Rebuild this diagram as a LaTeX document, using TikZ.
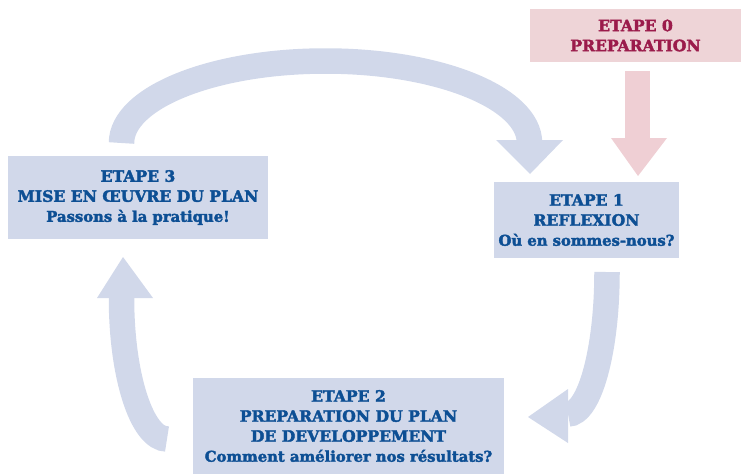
\documentclass[tikz,border=0pt]{standalone}
\usepackage{fontspec}
\newfontfamily\stepfont{DejaVu Serif Bold}[FakeBold=2.4]
\newcommand\capln[1]{{\fontsize{15.6}{20}\selectfont #1}}
\newcommand\lowln[1]{{\fontsize{14.8}{20}\selectfont #1}}
\definecolor{boxblue}{HTML}{D1D8EA}
\definecolor{boxpink}{HTML}{EED4D7}
\definecolor{arrowpink}{HTML}{EFCFD4}
\definecolor{txtblue}{HTML}{0D4F94}
\definecolor{txtred}{HTML}{9B1B4B}
\begin{document}
\begin{tikzpicture}[x=1pt,y=-1pt,
  stepbox/.style={fill=boxblue, draw=none, inner sep=0pt, align=center, text=txtblue,
    font=\stepfont\fontsize{15}{20}\selectfont},
  pinkbox/.style={stepbox, fill=boxpink, text=txtred},
  band/.style={draw=boxblue, line width=25.5pt},
  bandhead/.style={fill=boxblue},
  pinkhead/.style={fill=arrowpink}]
\useasboundingbox (0,0) rectangle (741,474);

% boxes
\node[pinkbox, minimum width=211pt, minimum height=53pt] (e0) at (635.5,35.5) {\capln{ETAPE 0}\\\capln{PREPARATION}};
\node[stepbox, minimum width=185pt, minimum height=76pt] (e1) at (586.5,220) {\capln{ETAPE 1}\\\capln{REFLEXION}\\\lowln{Où en sommes-nous?}};
\node[stepbox, minimum width=260pt, minimum height=83pt] (e3) at (138,197.5) {\capln{ETAPE 3}\\\capln{MISE EN ŒUVRE DU PLAN}\\\lowln{Passons à la pratique!}};
\node[stepbox, minimum width=311pt, minimum height=96pt] (e2) at (348.5,426) {\capln{ETAPE 2}\\\capln{PREPARATION DU PLAN}\\\capln{DE DEVELOPPEMENT}\\\lowln{Comment améliorer nos résultats?}};

% connector coordinates
\coordinate (s3) at (121.5,143);
\coordinate (h1) at (530,174);
\coordinate (s0) at (637.5,71);
\coordinate (h0) at (638,176);
\coordinate (s2) at (167,439);
\coordinate (h3) at (123,257);
\coordinate (s1) at (607,272);
\coordinate (h2) at (528,417);

% step 3 -> step 1 (top arc)
\draw[band] (s3) arc[start angle=180, end angle=360, x radius=204, y radius=82];
\fill[bandhead] (496,140) -- (563,140) -- (h1) -- cycle;

% step 0 -> step 1
\fill[pinkhead] (625,71) rectangle (650,139);
\fill[pinkhead] (611,138) -- (667,138) -- (h0) -- cycle;

% step 2 -> step 3
\draw[band] (s2) arc[start angle=90, end angle=180, x radius=45.5, y radius=141];
\fill[bandhead] (97,298) -- (153,298) -- (h3) -- cycle;

% step 1 -> step 2
\draw[band] (s1) arc[start angle=0, end angle=90, x radius=39, y radius=142];
\fill[bandhead] (568,389) -- (568,443) -- (h2) -- cycle;
\end{tikzpicture}
\end{document}
